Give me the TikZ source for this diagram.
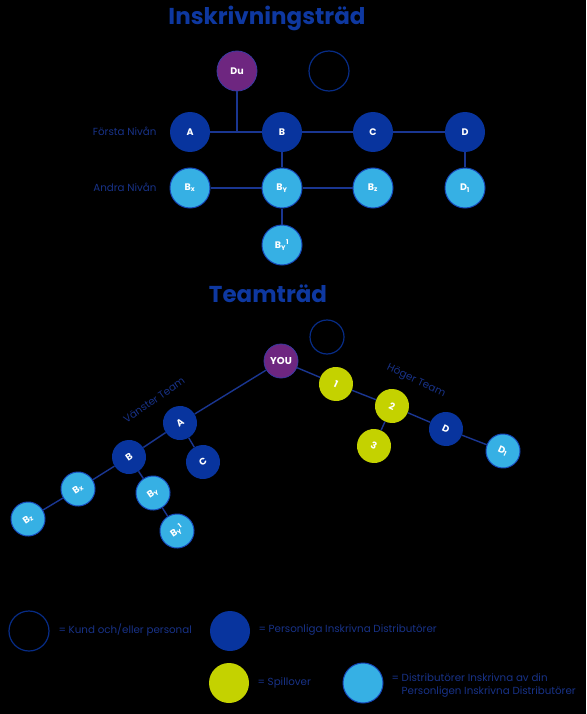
\documentclass[tikz,border=0pt]{standalone}
\usepackage{fontspec}
\setmainfont{Poppins}
\begin{document}
\definecolor{titleblue}{RGB}{14,56,160}
\definecolor{nodeblue}{RGB}{8,52,158}
\definecolor{lightblue}{RGB}{54,176,228}
\definecolor{lbedge}{RGB}{22,72,185}
\definecolor{purp}{RGB}{110,38,128}
\definecolor{lime}{RGB}{196,210,0}
\definecolor{linecol}{RGB}{26,54,145}
\definecolor{labcol}{RGB}{24,50,135}
\begin{tikzpicture}[x=1pt,y=-1pt,
  base/.style={circle,inner sep=0pt,font=\fontsize{9.5}{10}\selectfont\bfseries,text=white},
  big/.style={minimum size=40pt},
  small/.style={minimum size=34pt},
  dk/.style={base,fill=nodeblue},
  lb/.style={base,fill=lightblue,draw=lbedge,line width=1pt},
  pu/.style={base,fill=purp,draw=lbedge!60!purp,line width=0.8pt},
  li/.style={base,fill=lime},
  emp/.style={base,draw=nodeblue!85!black,line width=1.2pt},
  conn/.style={draw=linecol,line width=1.4pt},
  lab/.style={text=labcol,font=\fontsize{10.3}{13}\selectfont},
  ttl/.style={text=titleblue,font=\fontsize{23}{26}\selectfont\bfseries}
]
\fill[black] (0,0) rectangle (586,714);
\useasboundingbox (0,0) rectangle (586,714);

% ---------- Inskrivningsträd ----------
\node[ttl] (t1) at (267,18) {Inskrivningsträd};
\node[pu,big] (du) at (237,71) {Du};
\node[emp,big] (e1) at (329,71) {};
\node[dk,big] (a) at (190,132) {A};
\node[dk,big] (b) at (282,132) {B};
\node[dk,big] (c) at (373,132) {C};
\node[dk,big] (d) at (465,132) {D};
\node[lb,big] (bx) at (190,188) {B\textsubscript{x}};
\node[lb,big] (by) at (282,188) {B\textsubscript{Y}};
\node[lb,big] (bz) at (373,188) {B\textsubscript{z}};
\node[lb,big] (d1) at (465,188) {D\textsubscript{1}};
\node[lb,big] (by1) at (282,245) {B\textsubscript{Y}\textsuperscript{1}};
\node[lab,anchor=east] (l1) at (160,131) {Första Nivån};
\node[lab,anchor=east] (l2) at (160,187) {Andra Nivån};
\coordinate (j) at (237,132);
\path[conn] (a) -- (b) (b) -- (c) (c) -- (d);
\path[conn] (du) -- (j);
\path[conn] (b) -- (by) (d) -- (d1) (bx) -- (by) (by) -- (bz) (by) -- (by1);

% ---------- Teamträd ----------
\node[ttl] (t2) at (268,294) {Teamträd};
\node[emp,small] (e2) at (327,337) {};
\node[pu,small,font=\fontsize{10}{11}\selectfont\bfseries] (you) at (281,361) {YOU};
\node[li,small,rotate=-25] (s1) at (336,384) {1};
\node[li,small,rotate=-25] (s2) at (392,406) {2};
\node[li,small,rotate=-25] (s3) at (374,446) {3};
\node[dk,small,rotate=-25] (td) at (446,429) {D};
\node[lb,small,rotate=-25] (td1) at (503,451) {D\textsubscript{1}};
\node[dk,small,rotate=35] (ta) at (180,423) {A};
\node[dk,small,rotate=35] (tc) at (203,462) {C};
\node[dk,small,rotate=35] (tb) at (129,457) {B};
\node[lb,small,rotate=35] (tbx) at (78,489) {B\textsubscript{x}};
\node[lb,small,rotate=35] (tby) at (153,493) {B\textsubscript{Y}};
\node[lb,small,rotate=35] (tbz) at (28,519) {B\textsubscript{z}};
\node[lb,small,rotate=35] (tby1) at (177,531) {B\textsubscript{Y}\textsuperscript{1}};
\node[lab,rotate=35] (vt) at (154,400) {Vänster Team};
\node[lab,rotate=-25] (ht) at (416,381) {Höger Team};
\path[conn] (you) -- (s1) (s1) -- (s2) (s2) -- (td) (td) -- (td1) (s2) -- (s3);
\path[conn] (you) -- (ta) (ta) -- (tb) (tb) -- (tbx) (tbx) -- (tbz) (ta) -- (tc) (tb) -- (tby) (tby) -- (tby1);

% ---------- Legend ----------
\node[emp,big] (k1) at (29,631) {};
\node[lab,anchor=west] (k1t) at (55,630) {= Kund och/eller personal};
\node[dk,big] (k2) at (230,631) {};
\node[lab,anchor=west] (k2t) at (255,630) {= Personliga Inskrivna Distributörer};
\node[li,big] (k3) at (229,683) {};
\node[lab,anchor=west] (k3t) at (254,683) {= Spillover};
\node[lb,big] (k4) at (363,683) {};
\node[lab,anchor=west,align=left] (k4t) at (388,685) {= Distributörer Inskrivna av din\\\phantom{= }Personligen Inskrivna Distributörer};
\end{tikzpicture}
\end{document}
